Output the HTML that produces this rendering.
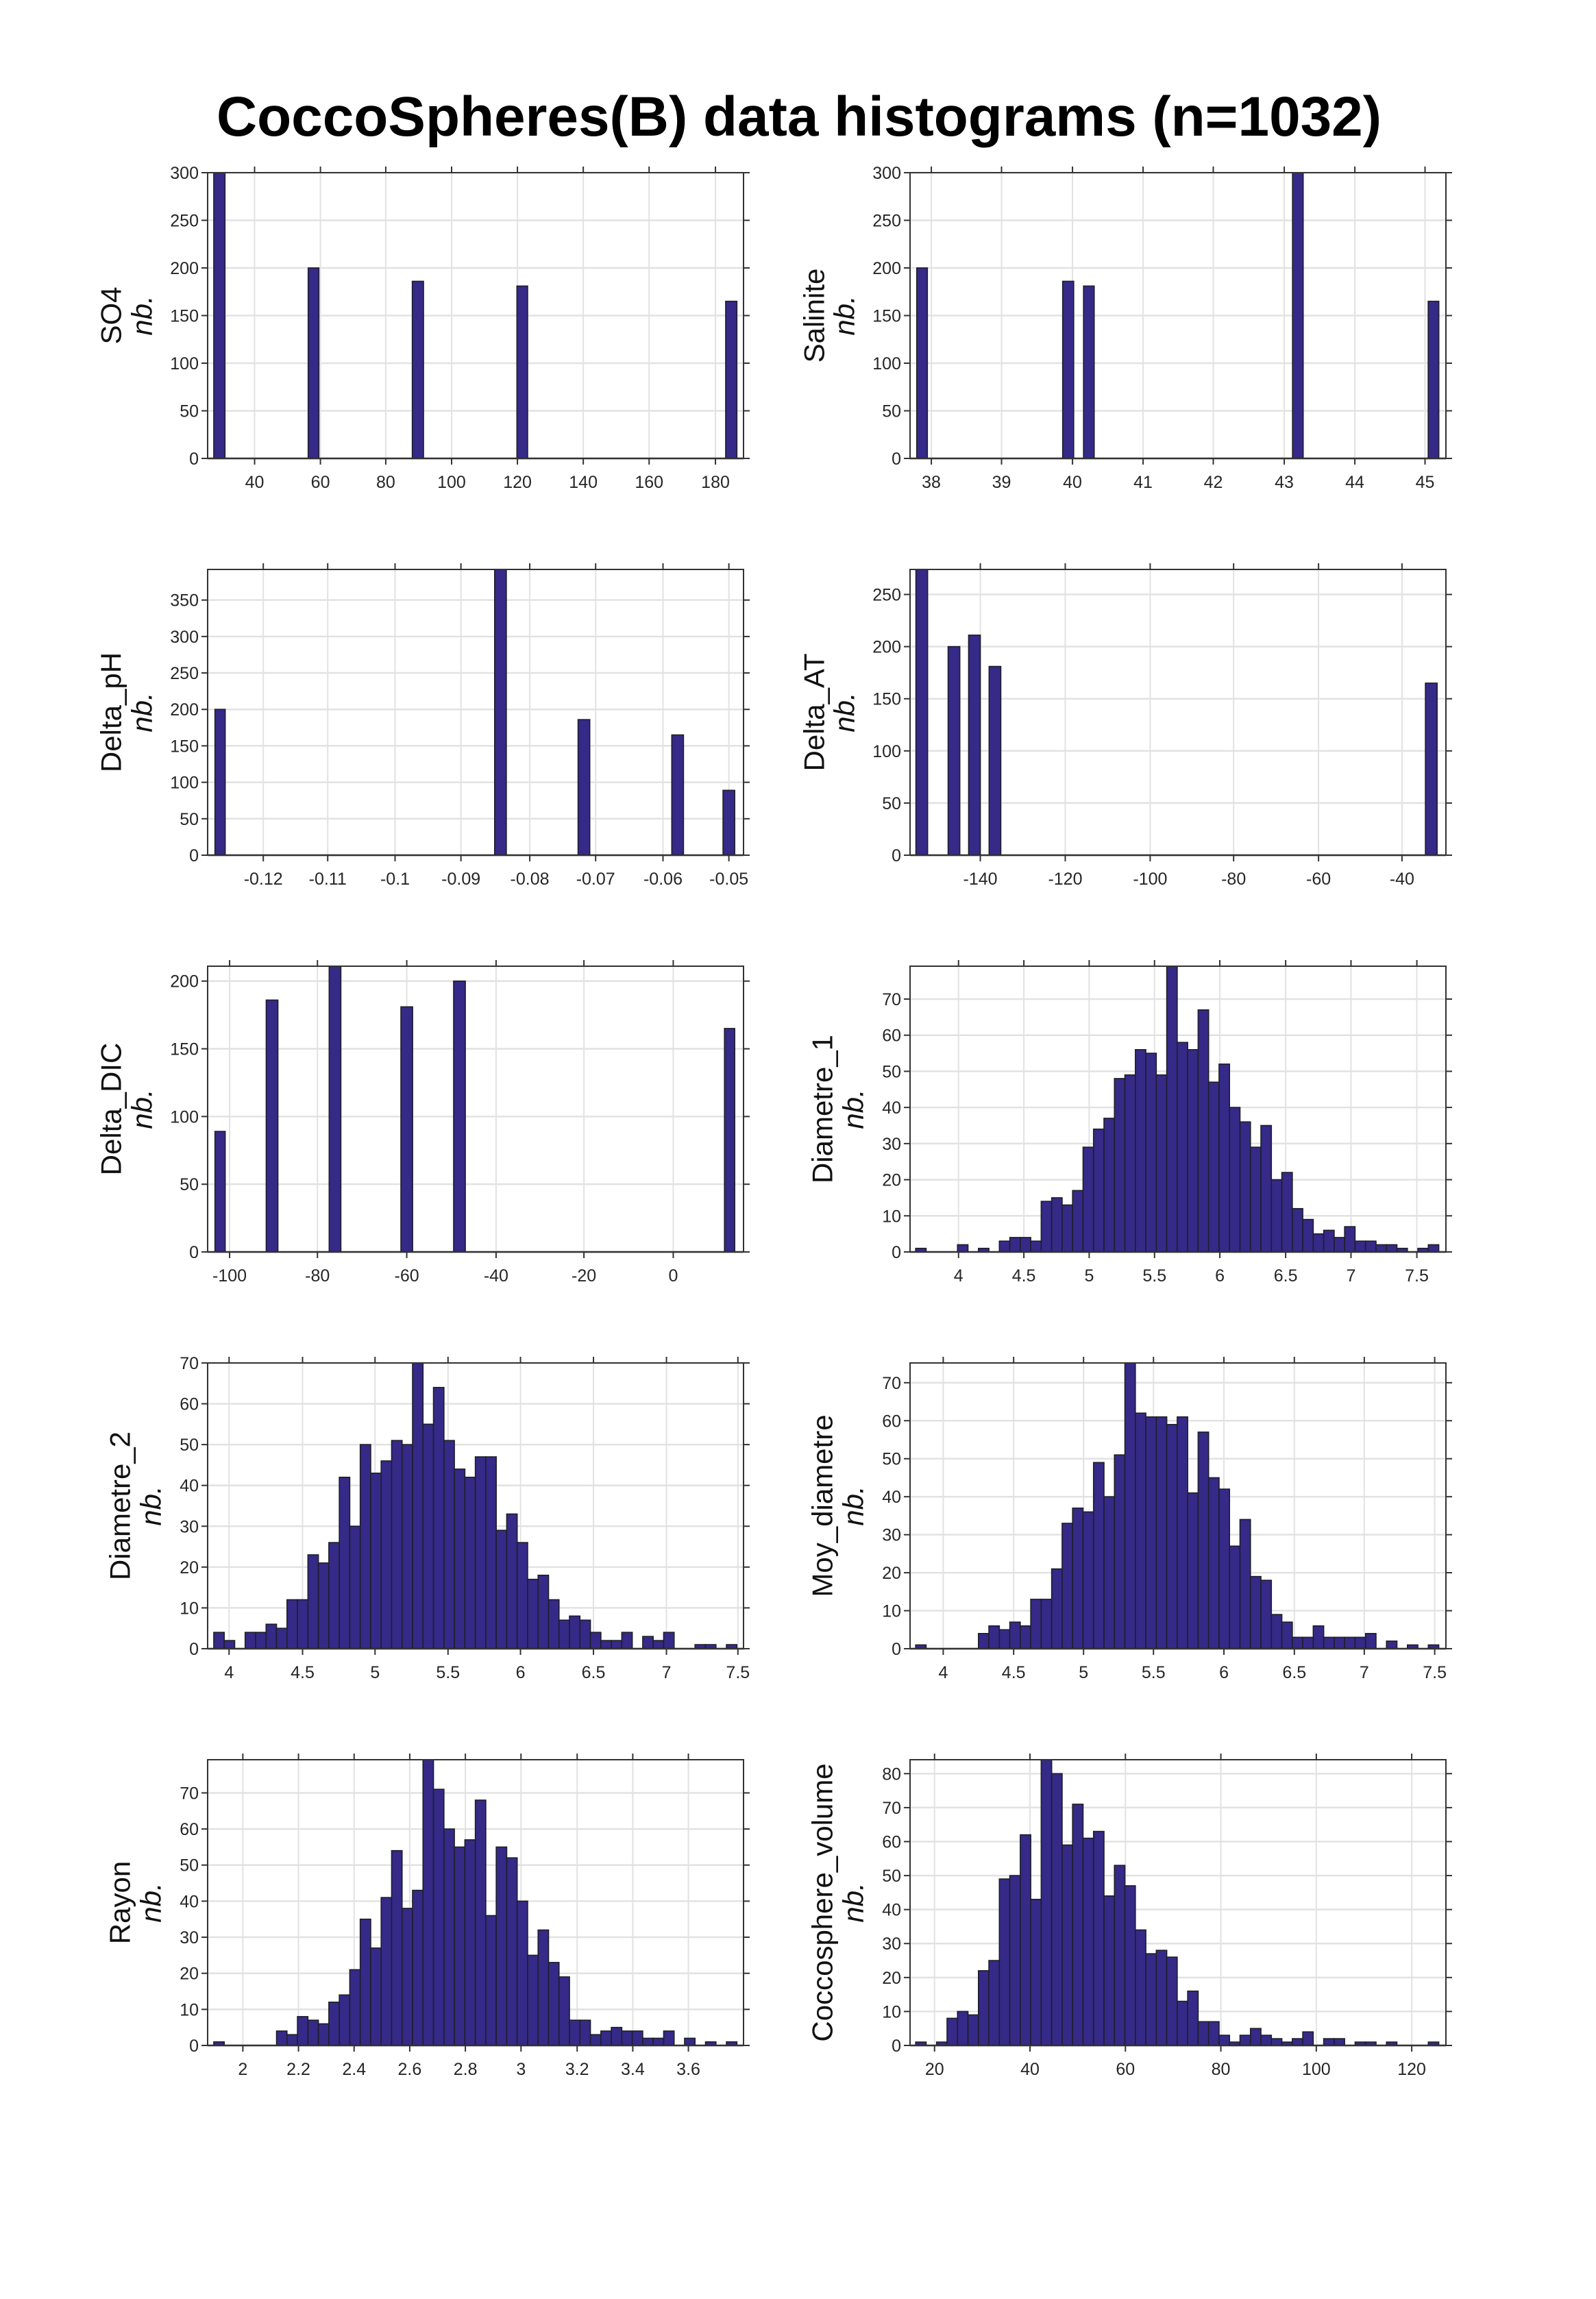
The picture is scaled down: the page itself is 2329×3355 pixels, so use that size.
<!DOCTYPE html>
<html><head><meta charset="utf-8"><style>
html,body{margin:0;padding:0;background:#fff;}
svg{display:block;}
</style></head><body>
<svg id="s" xmlns="http://www.w3.org/2000/svg" width="2329" height="3355" viewBox="0 0 2329 3355">
<rect width="2329" height="3355" fill="#fff"/>
<text x="1166" y="198" text-anchor="middle" font-family="Liberation Sans, sans-serif" font-weight="bold" font-size="82" textLength="1700" lengthAdjust="spacingAndGlyphs" fill="#000">CoccoSpheres(B) data histograms (n=1032)</text>
</svg>
<script>
const NS="http://www.w3.org/2000/svg";
const svg=document.getElementById('s');
function el(t,a,txt){const e=document.createElementNS(NS,t);for(const k in a)e.setAttribute(k,a[k]);if(txt!==undefined)e.textContent=txt;svg.appendChild(e);return e;}
function range(a,b,s){const r=[];for(let v=a;v<=b+1e-9;v+=s)r.push(v);return r;}
function hist(start,w,counts){return counts.map((c,i)=>[start+i*w,start+(i+1)*w,c]);}
const charts=[
{col:0,row:0,name:'SO4',d3:1,zl:408,zr:1458,ymax:300,yt:range(0,300,50),
 xt:[[500,'40'],[629,'60'],[757,'80'],[886,'100'],[1015,'120'],[1144,'140'],[1273,'160'],[1403,'180']],
 bars:[[420,442,300],[605,626,200],[809,831,186],[1014,1035,181],[1423,1445,165]]},
{col:1,row:0,name:'Salinite',d3:1,zl:138,zr:1497,ymax:300,yt:range(0,300,50),
 xt:[[192,'38'],[370,'39'],[550,'40'],[729,'41'],[907,'42'],[1087,'43'],[1266,'44'],[1444,'45']],
 bars:[[155,182,200],[525,553,186],[578,605,181],[1108,1135,300],[1452,1479,165]]},
{col:0,row:1,name:'Delta_pH',d3:1,zl:141,zr:507,ymax:392,yt:range(0,350,50),
 xt:[[179,'-0.12'],[223,'-0.11'],[269,'-0.1'],[314,'-0.09'],[361,'-0.08'],[406,'-0.07'],[452,'-0.06'],[497,'-0.05']],
 bars:[[146,153,200],[337,345,392],[394,402,186],[458,466,165],[493,501,89]]},
{col:1,row:1,name:'Delta_AT',d3:1,zl:621,zr:987,ymax:274,yt:range(0,250,50),
 xt:[[669,'-140'],[727,'-120'],[785,'-100'],[842,'-80'],[900,'-60'],[957,'-40']],
 bars:[[625,633,274],[647,655,200],[661,669,211],[675,683,181],[973,981,165]]},
{col:0,row:2,name:'Delta_DIC',d3:1,zl:141,zr:507,ymax:211,yt:range(0,200,50),
 xt:[[156,'-100'],[216,'-80'],[277,'-60'],[338,'-40'],[398,'-20'],[459,'0']],
 bars:[[146,153,89],[181,189,186],[224,232,211],[273,281,181],[309,317,200],[494,501,165]]},
{col:1,row:2,name:'Diametre_1',d3:0,zl:222,zr:1272,ymax:79.1,yt:range(0,70,10),
 xt:[[317,'4'],[445,'4.5'],[573,'5'],[701,'5.5'],[829,'6'],[958,'6.5'],[1086,'7'],[1215,'7.5']],
 bars:hist(233,20.5,[1,0,0,0,2,0,1,0,3,4,4,3,14,15,13,17,29,34,37,48,49,56,55,49,79.1,58,56,67,47,52,40,36,29,35,20,22,12,9,5,6,4,7,3,3,2,2,1,0,1,2])},
{col:0,row:3,name:'Diametre_2',d3:0,zl:408,zr:1458,ymax:70,yt:range(0,70,10),
 xt:[[450,'4'],[594,'4.5'],[736,'5'],[879,'5.5'],[1021,'6'],[1164,'6.5'],[1307,'7'],[1447,'7.5']],
 bars:hist(420,20.5,[4,2,0,4,4,6,5,12,12,23,21,26,42,30,50,43,46,51,50,70,55,64,51,44,42,47,47,29,33,26,17,18,12,7,8,7,4,2,2,4,0,3,2,4,0,0,1,1,0,1])},
{col:1,row:3,name:'Moy_diametre',d3:0,zl:222,zr:1272,ymax:75.2,yt:range(0,70,10),
 xt:[[287,'4'],[425,'4.5'],[562,'5'],[699,'5.5'],[837,'6'],[975,'6.5'],[1112,'7'],[1250,'7.5']],
 bars:hist(233,20.5,[1,0,0,0,0,0,4,6,5,7,6,13,13,21,33,37,36,49,40,51,75.2,62,61,61,59,61,41,57,45,42,27,34,19,18,9,7,3,3,6,3,3,3,3,4,0,2,0,1,0,1])},
{col:0,row:4,name:'Rayon',d3:0,zl:408,zr:1458,ymax:79.2,yt:range(0,70,10),
 xt:[[477,'2'],[586,'2.2'],[695,'2.4'],[804,'2.6'],[913,'2.8'],[1022,'3'],[1132,'3.2'],[1241,'3.4'],[1350,'3.6']],
 bars:hist(420,20.5,[1,0,0,0,0,0,4,3,8,7,6,12,14,21,35,27,41,54,38,43,79.2,71,60,55,57,68,36,55,52,40,25,32,23,19,7,7,3,4,5,4,4,2,2,4,0,2,0,1,0,1])},
{col:1,row:4,name:'Coccosphere_volume',d3:0,zl:222,zr:1272,ymax:84.1,yt:range(0,80,10),
 xt:[[270,'20'],[457,'40'],[644,'60'],[831,'80'],[1018,'100'],[1205,'120']],
 bars:hist(233,20.5,[1,0,1,8,10,9,22,25,49,50,62,43,84.1,80,59,71,61,63,44,53,47,34,27,28,26,13,16,7,7,3,1,3,5,3,2,1,2,4,0,2,2,0,1,1,0,1,0,0,0,1])}
];
const ROWS=[252,831,1410,1989,2568], W=782, H=417, FONT='"Liberation Sans Narrow","Liberation Sans",sans-serif';
for(const c of charts){
  const X0=c.col?1328:303, Y0=ROWS[c.row];
  const mx=z=>X0+(z-c.zl)/(c.zr-c.zl)*W, my=v=>Y0+H-Math.min(v,c.ymax)/c.ymax*H;
  for(const [z] of c.xt){const x=mx(z);el('line',{x1:x,y1:Y0,x2:x,y2:Y0+H,stroke:'#e2e2e2','stroke-width':2});}
  for(const v of c.yt){const y=my(v);el('line',{x1:X0,y1:y,x2:X0+W,y2:y,stroke:'#e2e2e2','stroke-width':2.5});}
  for(const [a,b,n] of c.bars){
    if(n<=0){continue;}
    const x1=mx(a),x2=mx(b),y=my(n);
    el('rect',{x:x1,y:y,width:x2-x1,height:Y0+H-y,fill:'#352a87',stroke:'#1e1e2a','stroke-width':1.6});
  }
  el('line',{x1:X0,y1:Y0+H,x2:X0+W,y2:Y0+H,stroke:'#222','stroke-width':2.5});
  el('rect',{x:X0,y:Y0,width:W,height:H,fill:'none',stroke:'#333','stroke-width':2});
  for(const [z,l] of c.xt){const x=mx(z);
    el('line',{x1:x,y1:Y0+H,x2:x,y2:Y0+H+9,stroke:'#333','stroke-width':2});
    el('line',{x1:x,y1:Y0,x2:x,y2:Y0-9,stroke:'#333','stroke-width':2});
    el('text',{x:x,y:Y0+H+43,'text-anchor':'middle','font-family':FONT,'font-size':25,fill:'#262626'},l);
  }
  for(const v of c.yt){const y=my(v);
    el('line',{x1:X0-9,y1:y,x2:X0,y2:y,stroke:'#333','stroke-width':2});
    el('line',{x1:X0+W,y1:y,x2:X0+W+9,y2:y,stroke:'#333','stroke-width':2});
    el('text',{x:X0-13,y:y+9,'text-anchor':'end','font-family':FONT,'font-size':25,fill:'#262626'},String(v));
  }
  let nx,bx;
  if(c.col==0){nx=c.d3?162:175;bx=c.d3?207:220;}else{nx=c.d3?1188:1200;bx=c.d3?1232:1245;}
  const cy=Y0+H/2;
  el('text',{x:nx,y:cy,transform:`rotate(-90 ${nx} ${cy})`,'text-anchor':'middle','dominant-baseline':'central','font-family':'"Liberation Sans",sans-serif','font-size':42,fill:'#111'},c.name);
  el('text',{x:bx,y:cy,transform:`rotate(-90 ${bx} ${cy})`,'text-anchor':'middle','dominant-baseline':'central','font-family':'"Liberation Sans",sans-serif','font-style':'italic','font-size':42,fill:'#111'},'nb.');
}
</script>
</body></html>
